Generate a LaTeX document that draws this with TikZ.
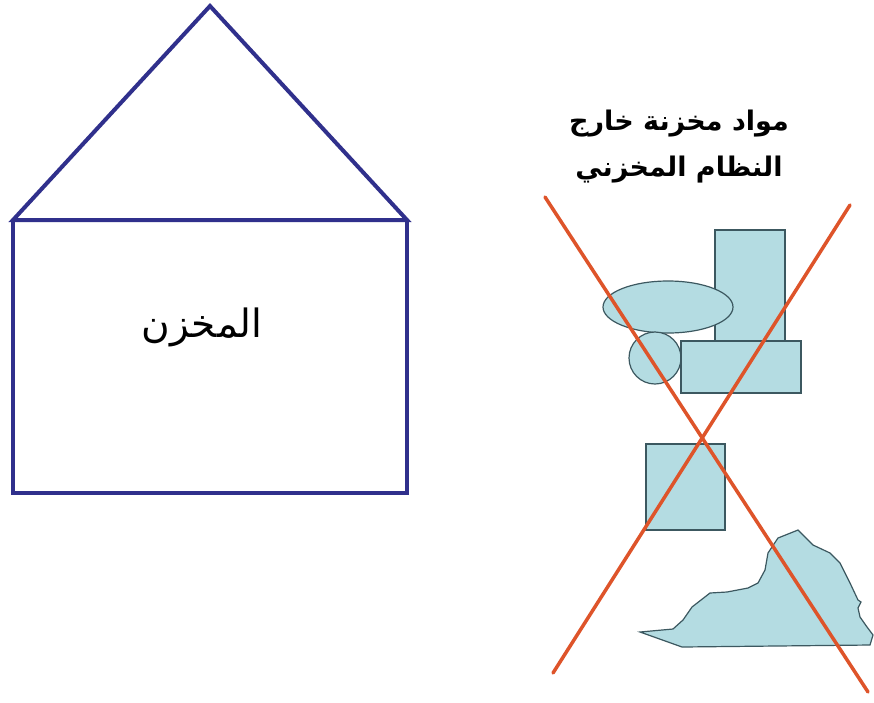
\documentclass[tikz,border=0pt]{standalone}
\usepackage{fontspec}
\TeXXeTstate=1
\newfontfamily\arabicfont[Script=Arabic]{DejaVu Sans}
\definecolor{houseblue}{RGB}{48,48,140}
\definecolor{crossred}{RGB}{222,84,42}
\definecolor{shapefill}{RGB}{180,220,226}
\definecolor{shapeline}{RGB}{60,88,96}
\begin{document}
\begin{tikzpicture}[x=1pt,y=-1pt,
  house/.style={draw=houseblue,line width=4pt,line join=miter},
  item/.style={draw=shapeline,fill=shapefill,line width=1.2pt},
  cross/.style={draw=crossred,line width=3.5pt,line cap=round},
  label/.style={font=\arabicfont,text=black,inner sep=0pt,align=center}]
\useasboundingbox[fill=white] (0,0) rectangle (874,702);
% house
\coordinate (apex) at (210,6);
\coordinate (rl) at (13,220);
\coordinate (rr) at (407,220);
\coordinate (bl) at (13,493);
\coordinate (br) at (407,493);
\draw[house] (rl) -- (apex) -- (rr) -- cycle;
\draw[house] (rl) -- (bl) -- (br) -- (rr);
\node[label,font=\arabicfont\fontsize{39}{44}\selectfont] (store) at (202,327) {\beginR المخزن\endR};
% caption
\node[label,font=\arabicfont\bfseries\fontsize{27}{46}\selectfont] (cap) at (679,147) {\beginR مواد مخزنة خارج\endR\\\beginR النظام المخزني\endR};
% items
\draw[item] (715,230) rectangle (785,342);
\draw[item] (668,307) ellipse [x radius=65, y radius=26];
\draw[item] (655,358) circle [radius=26];
\draw[item] (681,341) rectangle (801,393);
\draw[item] (646,444) rectangle (725,530);
\draw[item] (640,632) -- (673,629) -- (683,620) -- (692,607) -- (710,593) -- (727,592)
  -- (748,588) -- (758,583) -- (765,570) -- (768,553) -- (778,538) -- (798,530)
  -- (813,545) -- (830,553) -- (840,563) -- (850,583) -- (858,600) -- (861,602)
  -- (858,608) -- (860,617) -- (867,627) -- (873,635) -- (870,645) -- (682,647) -- cycle;
% cross
\coordinate (c1a) at (545,197);
\coordinate (c1b) at (868,692);
\coordinate (c2a) at (850,205);
\coordinate (c2b) at (553,673);
\draw[cross] (c1a) -- (c1b);
\draw[cross] (c2a) -- (c2b);
\end{tikzpicture}
\end{document}
